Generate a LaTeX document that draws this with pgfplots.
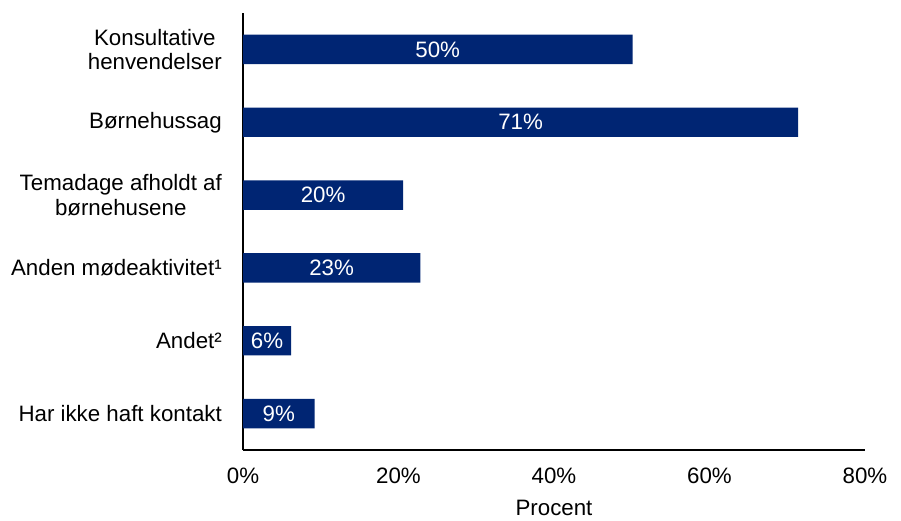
\documentclass[border=0pt]{standalone}
\usepackage{fontspec}
\setmainfont{Liberation Sans}
\usepackage{pgfplots}
\pgfplotsset{compat=1.18}
\definecolor{barblue}{RGB}{0,37,115}
\begin{document}
\fontsize{22.3}{24.5}\selectfont
\begin{tikzpicture}
\useasboundingbox (0,0) rectangle (901pt,520pt);
\begin{axis}[
  at={(243pt,70pt)}, anchor=south west,
  scale only axis, width=622pt, height=437pt,
  xmin=0, xmax=80, ymin=-0.5, ymax=5.5,
  axis x line*=bottom, axis y line*=left,
  axis line style={line width=1.5pt, -},
  xtick={0,20,40,60,80},
  xticklabels={0\%,20\%,40\%,60\%,80\%},
  ytick={0,1,2,3,4,5},
  yticklabels={Har ikke haft kontakt, Andet², Anden mødeaktivitet¹, {Temadage afholdt af\\børnehusene}, Børnehussag, {Konsultative\\henvendelser}},
  major tick length=0pt,
  tick style={draw=none},
  font=\fontsize{22.3}{24.5}\selectfont,
  yticklabel style={align=center, inner sep=0pt, xshift=-21pt, font=\fontsize{22.3}{24.5}\selectfont},
  xticklabel style={inner sep=0pt, yshift=-18pt, font=\fontsize{22.3}{24.5}\selectfont},
  xlabel={Procent},
  xlabel style={at={(axis description cs:0.5,0)}, anchor=north, inner sep=0pt, yshift=-50pt, font=\fontsize{22.3}{24.5}\selectfont},
  clip=false,
]
\addplot[xbar, bar width=0.404, fill=barblue, draw=none]
  coordinates {(9.2,0) (6.2,1) (22.8,2) (20.6,3) (71.4,4) (50.1,5)};
\addplot[draw=none, mark=none, nodes near coords, point meta=explicit symbolic,
  nodes near coords style={anchor=center, text=white, inner sep=0pt, font=\fontsize{22.3}{24.5}\selectfont}]
  coordinates {(4.6,0) [9\%] (3.1,1) [6\%] (11.4,2) [23\%] (10.3,3) [20\%] (35.7,4) [71\%] (25.05,5) [50\%]};
\end{axis}
\end{tikzpicture}
\end{document}
